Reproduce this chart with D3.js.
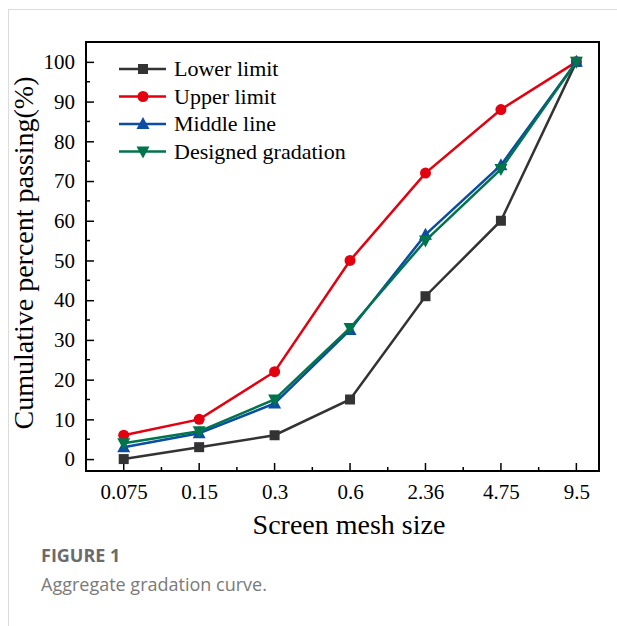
<!DOCTYPE html>
<html>
<head>
<meta charset="utf-8">
<script src="https://cdn.jsdelivr.net/npm/d3@7"></script>
<style>
body{margin:0;background:#fff;}
</style>
</head>
<body>
<svg id="chart" width="617" height="626"></svg>
<script>
// 筛孔尺寸
var sizes = ["0.075","0.15","0.3","0.6","2.36","4.75","9.5"];
var lowerLimit = [0,3,6,15,41,60,100];
var upperLimit = [6,10,22,50,72,88,100];
var middleLine = [3,6.5,14,32.5,56.5,74,100];
var designed = [4,7,15,33,55,73,100];
var seriesNames = ["Lower limit","Upper limit","Middle line","Designed gradation"];
var yTicks = [0,10,20,30,40,50,60,70,80,90,100];

var svg = d3.select("#chart");
var padL = 86, padT = 42, padR = 599, padB = 471;
var serif = "'Liberation Serif','Times New Roman',serif";

// 卡片边框
svg.append("line").attr("x1",8).attr("y1",9.5).attr("x2",617).attr("y2",9.5)
   .attr("stroke","#dcdcdc").attr("stroke-width",1);
svg.append("line").attr("x1",8.5).attr("y1",9).attr("x2",8.5).attr("y2",626)
   .attr("stroke","#dcdcdc").attr("stroke-width",1);

var x = d3.scaleLinear().domain([-0.5,6.3]).range([padL,padR]);
var y = d3.scaleLinear().domain([-3,105]).range([padB,padT]);

// 坐标框
svg.append("rect")
   .attr("x",padL).attr("y",padT)
   .attr("width",padR-padL).attr("height",padB-padT)
   .attr("fill","none").attr("stroke","#000").attr("stroke-width",2);

// y 轴（刻度朝里）
var yAxis = svg.append("g").attr("transform","translate("+padL+",0)")
   .call(d3.axisLeft(y).tickValues(yTicks).tickSize(-8).tickPadding(11).tickFormat(d3.format("d")));
yAxis.select(".domain").remove();
yAxis.selectAll("line").attr("stroke","#000").attr("stroke-width",1.5);
yAxis.selectAll("text").attr("font-family",serif).attr("font-size",21).attr("fill","#000");
// 次刻度
svg.append("g").selectAll("line").data(d3.range(5,100,10)).enter().append("line")
   .attr("x1",padL).attr("x2",padL+4).attr("y1",function(d){return y(d);}).attr("y2",function(d){return y(d);})
   .attr("stroke","#000").attr("stroke-width",1.5);

// x 轴（刻度朝里）
var xAxis = svg.append("g").attr("transform","translate(0,"+padB+")")
   .call(d3.axisBottom(x).tickValues(d3.range(sizes.length)).tickSize(0).tickPadding(13)
   .tickFormat(function(i){return sizes[i];}));
xAxis.select(".domain").remove();
xAxis.selectAll("text").attr("font-family",serif).attr("font-size",21).attr("fill","#000");
svg.append("g").selectAll("line").data(d3.range(sizes.length)).enter().append("line")
   .attr("x1",function(d){return x(d);}).attr("x2",function(d){return x(d);})
   .attr("y1",padB).attr("y2",padB-8)
   .attr("stroke","#000").attr("stroke-width",1.5);
svg.append("g").selectAll("line").data(d3.range(-0.5,6.3,1)).enter().append("line")
   .attr("x1",function(d){return x(d);}).attr("x2",function(d){return x(d);})
   .attr("y1",padB).attr("y2",padB-4)
   .attr("stroke","#000").attr("stroke-width",1.5);

// 轴标题
svg.append("text").attr("x",349).attr("y",534)
   .attr("text-anchor","middle").attr("font-family",serif).attr("font-size",28)
   .text("Screen mesh size");
svg.append("text").attr("transform","translate(33,253) rotate(-90)")
   .attr("text-anchor","middle").attr("font-family",serif).attr("font-size",28)
   .text("Cumulative percent passing(%)");

var allSeries = [
   {name:seriesNames[0], values:lowerLimit, color:"#333333", marker:"square"},
   {name:seriesNames[1], values:upperLimit, color:"#e3000f", marker:"circle"},
   {name:seriesNames[2], values:middleLine, color:"#0a4da2", marker:"triangle"},
   {name:seriesNames[3], values:designed, color:"#00744a", marker:"triangleDown"}
];

function marker(g, type, cx, cy, color){
   if(type=="square"){
      g.append("rect").attr("x",cx-5).attr("y",cy-5).attr("width",10).attr("height",10).attr("fill",color);
   }else if(type=="circle"){
      g.append("circle").attr("cx",cx).attr("cy",cy).attr("r",5.5).attr("fill",color);
   }else if(type=="triangle"){
      g.append("path").attr("d","M"+cx+","+(cy-7)+"L"+(cx+6.5)+","+(cy+5)+"L"+(cx-6.5)+","+(cy+5)+"Z").attr("fill",color);
   }else{
      g.append("path").attr("d","M"+cx+","+(cy+7)+"L"+(cx+6.5)+","+(cy-5)+"L"+(cx-6.5)+","+(cy-5)+"Z").attr("fill",color);
   }
}

var line = d3.line().x(function(d,i){return x(i);}).y(function(d){return y(d);});

allSeries.forEach(function(s){
   var g = svg.append("g");
   g.append("path").attr("d",line(s.values)).attr("fill","none")
    .attr("stroke",s.color).attr("stroke-width",2.5);
   s.values.forEach(function(v,i){ marker(g,s.marker,x(i),y(v),s.color); });
});

// 图例
allSeries.forEach(function(s,k){
   var ly = 69 + k*27.5;
   var g = svg.append("g");
   g.append("line").attr("x1",119).attr("x2",166).attr("y1",ly).attr("y2",ly)
    .attr("stroke",s.color).attr("stroke-width",2.5);
   marker(g,s.marker,143,ly,s.color);
   g.append("text").attr("x",174).attr("y",ly+7).attr("font-family",serif).attr("font-size",22)
    .text(s.name);
});

// 图注
svg.append("text").attr("x",41).attr("y",562).attr("font-family","'Open Sans','Noto Sans',sans-serif")
   .attr("font-size",18).attr("font-weight","bold").attr("fill","#6b6b6b").text("FIGURE 1");
svg.append("text").attr("x",41).attr("y",591).attr("font-family","'Open Sans','Noto Sans',sans-serif")
   .attr("font-size",18).attr("fill","#7a7a7a").text("Aggregate gradation curve.");
</script>
</body>
</html>
